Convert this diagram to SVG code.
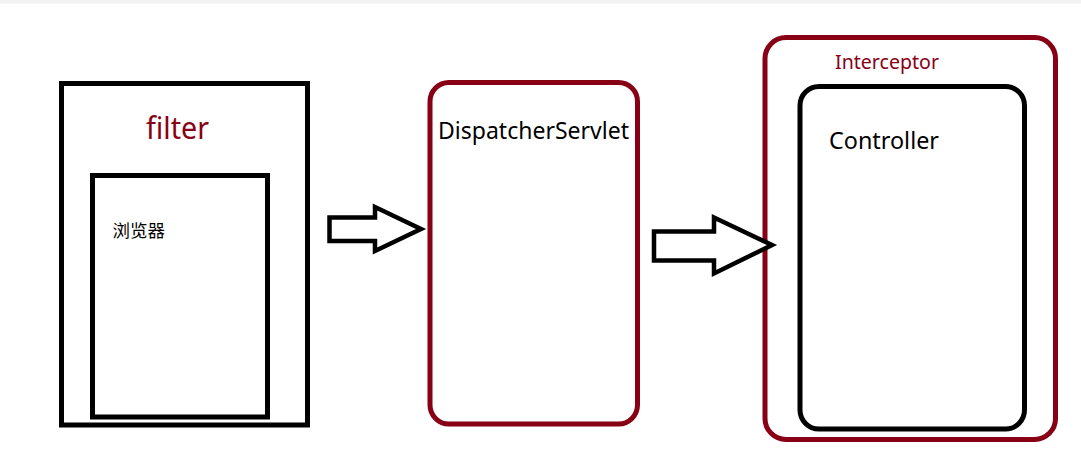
<svg xmlns="http://www.w3.org/2000/svg" width="1081" height="449" viewBox="0 0 1081 449">
  <style>
    .blk { fill: none; stroke: #000000; stroke-width: 5; }
    .red { fill: none; stroke: #880015; stroke-width: 5; }
    .arrow { fill: #ffffff; stroke: #000000; stroke-width: 4.5; stroke-linejoin: miter; }
    .lbl { font-family: "Noto Sans", "Open Sans", sans-serif; }
    .cjk { font-family: "Noto Sans CJK SC", sans-serif; }
  </style>
  <rect x="0" y="0" width="1081" height="449" fill="#ffffff"/>
  <rect x="0" y="0" width="1081" height="3.5" fill="#f2f2f2"/>

  <g id="filter">
    <rect class="blk" x="61.5" y="83.5" width="246" height="341.5"/>
    <text class="lbl" x="146" y="138.5" font-size="30" fill="#880015" textLength="63" lengthAdjust="spacingAndGlyphs">filter</text>
  </g>

  <g id="browser">
    <rect class="blk" x="92.5" y="175.5" width="175" height="241.5"/>
    <text class="cjk" x="112.5" y="237" font-size="17.5" fill="#000000">浏览器</text>
  </g>

  <g id="dispatcher">
    <rect class="red" x="430" y="82.5" width="207.5" height="341.5" rx="19" ry="19"/>
    <text class="lbl" x="438" y="138.5" font-size="23.5" fill="#000000" textLength="191" lengthAdjust="spacingAndGlyphs">DispatcherServlet</text>
  </g>

  <g id="interceptor">
    <rect class="red" x="765" y="37.5" width="290.5" height="402" rx="21" ry="21"/>
    <text class="lbl" x="835" y="68.5" font-size="20" fill="#880015" textLength="104" lengthAdjust="spacingAndGlyphs">Interceptor</text>
  </g>

  <g id="controller">
    <rect class="blk" x="800" y="86.5" width="224.5" height="342.5" rx="19" ry="19" stroke-width="4.6"/>
    <text class="lbl" x="829" y="148.5" font-size="23.5" fill="#000000" textLength="110" lengthAdjust="spacingAndGlyphs">Controller</text>
  </g>

  <g id="connectors">
    <polygon class="arrow" points="329.5,217.5 375,217.5 375,207 421,229 375,251 375,241 329.5,241"/>
    <polygon class="arrow" points="654,231.5 714,231.5 714,217.5 772,245 714,273.5 714,260.5 654,260.5"/>
  </g>
</svg>
